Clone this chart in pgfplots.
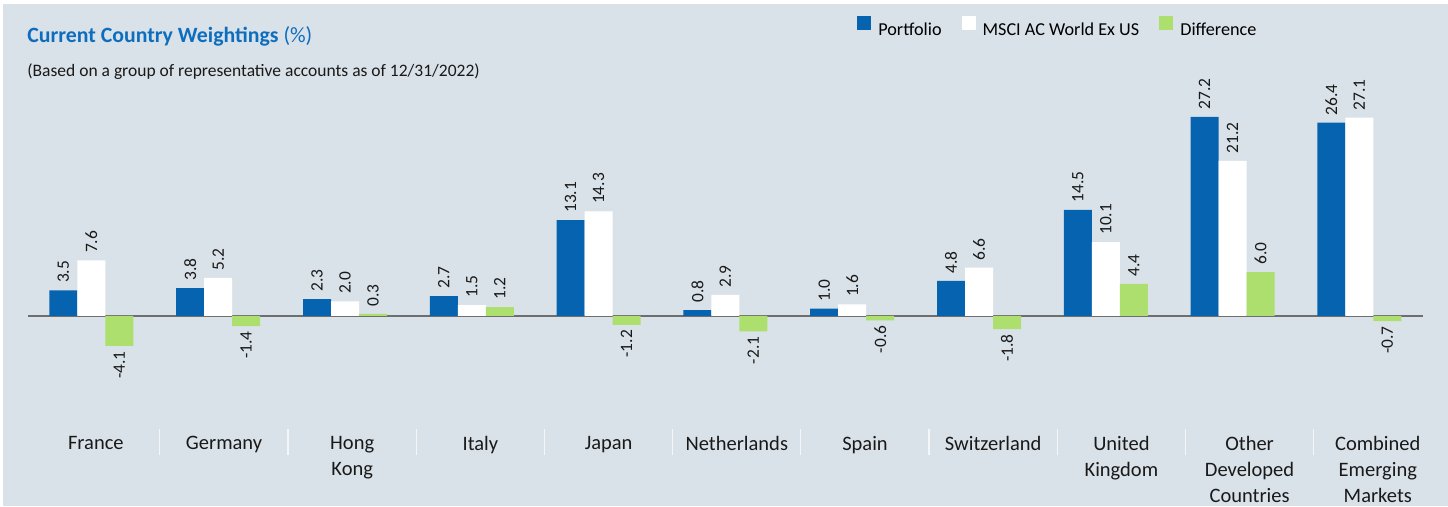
\documentclass[border=0pt]{standalone}
\usepackage{pgfplots}
\pgfplotsset{compat=1.18}
\usepackage{pgfplotstable}
\usepackage{fontspec}
\setmainfont{Carlito}
\definecolor{bgc}{HTML}{DAE2E9}
\definecolor{pblue}{HTML}{0563AF}
\definecolor{dgreen}{HTML}{ADDF6E}
\definecolor{tblue}{HTML}{0E6EBE}
\definecolor{zline}{HTML}{6E6E6E}

\pgfplotstableread{
x portfolio msci
0 3.5 7.6
1 3.8 5.2
2 2.3 2.0
3 2.7 1.5
4 13.1 14.3
5 0.8 2.9
6 1.0 1.6
7 4.8 6.6
8 14.5 10.1
9 27.2 21.2
10 26.4 27.1
}\maindata
\pgfplotstableread{
x diff
2 0.3
3 1.2
8 4.4
9 6.0
}\diffpos
\pgfplotstableread{
x diff
0 -4.1
1 -1.4
4 -1.2
5 -2.1
6 -0.6
7 -1.8
10 -0.7
}\diffneg

\begin{document}
\begin{tikzpicture}
\path[use as bounding box] (-14pt,-38.65pt) rectangle (710pt,214.36pt);
\fill[white] (-14pt,-38.65pt) rectangle (710pt,214.36pt);
\fill[bgc] (-12.5pt,-38.65pt) rectangle (710pt,212.36pt);
\begin{axis}[
  at={(0,0)}, anchor=south west,
  scale only axis,
  width=697.4pt, height=166.16pt,
  xmin=-0.5, xmax=10.5, ymin=-15.4, ymax=30,
  axis line style={draw=none},
  ytick=\empty,
  xtick={0.035,1.046,2.057,3.068,4.079,5.09,6.101,7.112,8.123,9.134,10.145},
  xticklabels={France,Germany,{Hong\\Kong},Italy,Japan,Netherlands,Spain,Switzerland,{United\\Kingdom},{Other\\Developed\\Countries},{Combined\\Emerging\\Markets}},
  xtick pos=lower,
  major tick length=0pt,
  xticklabel style={align=center, font=\fontsize{10.25}{12.9}\selectfont, text=black!90, inner sep=0pt, yshift=-3.6pt},
  extra x ticks={0.54,1.551,2.562,3.573,4.584,5.595,6.606,7.617,8.628,9.639},
  extra x tick labels={},
  extra x tick style={tick align=outside, major tick length=13pt, tick style={draw=white!70!bgc, line width=0.6pt}},
  extra y ticks={0},
  extra y tick labels={},
  extra y tick style={grid=major, major grid style={draw=zline, line width=1pt}, major tick length=0pt},
  ybar, bar width=14pt,
  every axis plot/.append style={draw=none},
  nodes near coords={\pgfmathprintnumber[fixed,fixed zerofill,precision=1,assume math mode=true]{\pgfplotspointmeta}},
  every node near coord/.append style={rotate=90, anchor=west, inner xsep=3.5pt, inner ysep=0pt, font=\fontsize{8.7}{10}\selectfont, text=black!90},
  legend style={at={(axis description cs:0.5943,1.1737)}, anchor=south west, draw=none, fill=none, inner sep=0pt, legend columns=3,
    nodes={inner sep=0pt}, font=\fontsize{9.1}{11}\selectfont,
    /tikz/every odd column/.append style={column sep=3.5pt},
    /tikz/every even column/.append style={column sep=10pt}},
  legend image code/.code={\fill[#1] (0pt,0pt) rectangle (7pt,7pt);},
]
\addplot[fill=pblue, bar shift=-14pt] table[x=x,y=portfolio] {\maindata};
\addlegendentry{Portfolio}
\addplot[fill=white, bar shift=0pt] table[x=x,y=msci] {\maindata};
\addlegendentry{MSCI AC World Ex US}
\addplot[fill=dgreen, bar shift=14pt] table[x=x,y=diff] {\diffpos};
\addlegendentry{Difference}
\addplot[fill=dgreen, bar shift=14pt, every node near coord/.append style={anchor=east, inner xsep=2.5pt}] table[x=x,y=diff] {\diffneg};
\end{axis}
\node[anchor=base west, inner sep=0pt, text=tblue, font=\fontsize{10.9}{13}\selectfont] at (-0.5pt,192.86pt) {\textbf{Current Country Weightings} (\%)};
\node[anchor=base west, inner sep=0pt, text=black!90, font=\fontsize{8.75}{10}\selectfont] at (-0.5pt,176.16pt) {(Based on a group of representative accounts as of 12/31/2022)};
\end{tikzpicture}
\end{document}
